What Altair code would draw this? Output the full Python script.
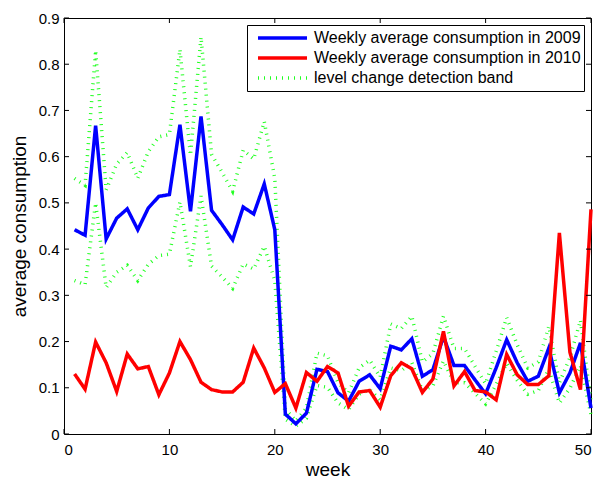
import altair as alt
import pandas as pd

weeks = list(range(1, 51))

w2009 = [0.442, 0.430, 0.667, 0.422, 0.467, 0.487, 0.442, 0.489, 0.514, 0.518,
         0.669, 0.482, 0.687, 0.484, 0.453, 0.420, 0.491, 0.476, 0.541, 0.442,
         0.043, 0.022, 0.045, 0.140, 0.135, 0.089, 0.071, 0.114, 0.128, 0.098,
         0.190, 0.182, 0.206, 0.125, 0.139, 0.211, 0.148, 0.148, 0.117, 0.087,
         0.143, 0.204, 0.154, 0.114, 0.125, 0.186, 0.089, 0.132, 0.197, 0.056]

w2010 = [0.130, 0.097, 0.199, 0.154, 0.092, 0.173, 0.141, 0.146, 0.085, 0.132,
         0.200, 0.161, 0.112, 0.096, 0.091, 0.091, 0.112, 0.186, 0.143, 0.090,
         0.109, 0.056, 0.133, 0.114, 0.146, 0.132, 0.060, 0.091, 0.094, 0.058,
         0.126, 0.154, 0.141, 0.090, 0.119, 0.222, 0.104, 0.135, 0.094, 0.091,
         0.074, 0.172, 0.128, 0.107, 0.107, 0.126, 0.435, 0.177, 0.096, 0.486]

band_upper = [0.553, 0.538, 0.830, 0.528, 0.584, 0.609, 0.553, 0.611, 0.643, 0.648,
              0.832, 0.603, 0.859, 0.605, 0.566, 0.525, 0.614, 0.595, 0.676, 0.553,
              0.054, 0.028, 0.056, 0.175, 0.169, 0.111, 0.089, 0.143, 0.160, 0.123,
              0.238, 0.228, 0.255, 0.156, 0.174, 0.255, 0.185, 0.185, 0.146, 0.109,
              0.179, 0.252, 0.193, 0.143, 0.156, 0.233, 0.111, 0.165, 0.246, 0.070]

band_lower = [0.332, 0.323, 0.500, 0.317, 0.350, 0.365, 0.332, 0.367, 0.386, 0.389,
              0.502, 0.362, 0.515, 0.363, 0.340, 0.315, 0.368, 0.357, 0.406, 0.332,
              0.032, 0.017, 0.034, 0.105, 0.101, 0.067, 0.053, 0.086, 0.096, 0.074,
              0.143, 0.137, 0.155, 0.094, 0.104, 0.158, 0.111, 0.111, 0.088, 0.065,
              0.107, 0.153, 0.116, 0.086, 0.094, 0.140, 0.067, 0.099, 0.148, 0.042]

series_names = ["Weekly average consumption in 2009",
                "Weekly average consumption in 2010",
                "level change detection band"]
series_colors = ["#0000ff", "#ff0000", "#22ff22"]

x_ticks = [0, 10, 20, 30, 40, 50]
y_ticks = [0, 0.1, 0.2, 0.3, 0.4, 0.5, 0.6, 0.7, 0.8, 0.9]

rows = []
for i, w in enumerate(weeks):
    rows.append({"week": w, "value": w2009[i], "series": series_names[0], "part": "main"})
    rows.append({"week": w, "value": w2010[i], "series": series_names[1], "part": "main"})
    rows.append({"week": w, "value": band_upper[i], "series": series_names[2], "part": "upper"})
    rows.append({"week": w, "value": band_lower[i], "series": series_names[2], "part": "lower"})
df = pd.DataFrame(rows)

FONT = "Liberation Sans"
W, H = 527, 416

legend = alt.Legend(
    title=None, orient="none", legendX=183, legendY=7,
    strokeColor="black", fillColor="white", padding=3,
    symbolType="stroke", symbolSize=2401, symbolOffset=6,
    labelOffset=5, labelFont=FONT, labelFontSize=16, labelColor="black",
    clipHeight=20, rowPadding=0, labelLimit=400,
)

x_axis = alt.Axis(values=x_ticks, title="week", grid=False, ticks=False,
                  domain=False, labelFont=FONT, labelFontSize=15,
                  labelColor="black", labelPadding=8,
                  titleFont=FONT, titleFontSize=19, titleFontWeight="normal",
                  titleColor="black", titlePadding=3)
y_axis = alt.Axis(values=y_ticks, format="~g", title="average consumption",
                  grid=False, ticks=False, domain=False, labelFont=FONT,
                  labelFontSize=15, labelColor="black", labelPadding=5,
                  titleFont=FONT, titleFontSize=19, titleFontWeight="normal",
                  titleColor="black", titlePadding=9)
xs = alt.Scale(domain=[0, 50], nice=False)
ys = alt.Scale(domain=[0, 0.9], nice=False)

x_enc = alt.X("week:Q", scale=xs, axis=x_axis)
y_enc = alt.Y("value:Q", scale=ys, axis=y_axis)

color = alt.Color("series:N", scale=alt.Scale(domain=series_names, range=series_colors),
                  legend=legend)
dash = alt.StrokeDash("series:N",
                      scale=alt.Scale(domain=series_names, range=[[1, 0], [1, 0], [1, 5]]),
                      legend=legend)
swidth = alt.StrokeWidth("series:N",
                         scale=alt.Scale(domain=series_names, range=[3.5, 3.5, 1.0]),
                         legend=legend)

base = alt.Chart(df)

band = base.transform_filter(alt.datum.series == series_names[2]).mark_line().encode(
    x=x_enc, y=y_enc, color=color, strokeDash=dash, strokeWidth=swidth, detail="part:N")
blue = base.transform_filter(alt.datum.series == series_names[0]).mark_line().encode(
    x=x_enc, y=y_enc, color=color, strokeDash=dash, strokeWidth=swidth)
red = base.transform_filter(alt.datum.series == series_names[1]).mark_line().encode(
    x=x_enc, y=y_enc, color=color, strokeDash=dash, strokeWidth=swidth)

xt = pd.DataFrame({"week": x_ticks})
yt = pd.DataFrame({"value": y_ticks})

xtick_bottom = alt.Chart(xt).mark_rule(color="black", strokeWidth=1).encode(
    x=x_enc, y=alt.value(H), y2=alt.value(H - 5))
xtick_top = alt.Chart(xt).mark_rule(color="black", strokeWidth=1).encode(
    x=x_enc, y=alt.value(0), y2=alt.value(5))
ytick_left = alt.Chart(yt).mark_rule(color="black", strokeWidth=1).encode(
    y=y_enc, x=alt.value(0), x2=alt.value(5))
ytick_right = alt.Chart(yt).mark_rule(color="black", strokeWidth=1).encode(
    y=y_enc, x=alt.value(W - 5), x2=alt.value(W))

chart = alt.layer(band, blue, red, xtick_bottom, xtick_top, ytick_left, ytick_right).properties(
    width=W, height=H,
    autosize=alt.AutoSizeParams(type="none"),
    padding={"left": 56, "top": 10, "right": 2, "bottom": 47},
    background="white",
).configure_view(stroke="black", strokeWidth=1)

chart.save("out.html", embed_options={"renderer": "svg", "actions": False})
